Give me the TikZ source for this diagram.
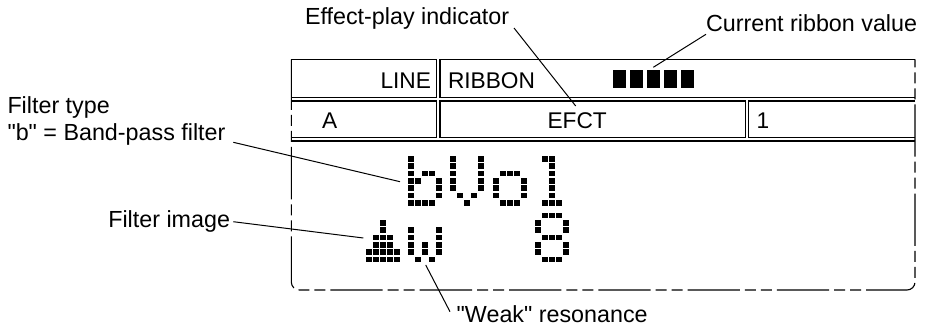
\documentclass[tikz,border=0pt]{standalone}
\usepackage{fontspec}
\newfontfamily\lblfont{Liberation Sans}
\newcommand{\dotglyph}[3]{%
  \foreach \r/\c in {#3} {\fill ({#1+7*\c},{#2+7.33*\r}) rectangle +(5.8,5.6);}%
}
\tikzset{
  lbl/.style={anchor=base west,inner sep=0pt,outer sep=0pt,font=\lblfont\fontsize{23.3}{28.4}\selectfont},
  lblr/.style={anchor=base east,inner sep=0pt,outer sep=0pt,font=\lblfont\fontsize{23.3}{28.4}\selectfont},
  celltxt/.style={font=\lblfont\fontsize{22.7}{28.4}\selectfont},
  frameline/.style={line width=1.1pt,line join=miter},
  outline/.style={line width=1.1pt,dash pattern=on 52.3pt off 5pt on 11pt off 5pt on 11pt off 5pt,dash phase=1.8pt},
  leader/.style={line width=1pt},
  seg/.style={fill=black}
}
\begin{document}
\begin{tikzpicture}[x=1pt,y=-1pt]
\useasboundingbox (0,0) rectangle (928,328);
% outer dashed outline
\draw[outline] (291.3,59.5) -- (291.3,282) .. controls (291.3,286.4) and (294.9,290) .. (299.3,290) -- (907,290) .. controls (911.4,290) and (915,286.4) .. (915,282) -- (915,59.5);
% cells
\draw[frameline] (291.3,59.5) -- (436.5,59.5) -- (436.5,97.7) -- (291.3,97.7);
\draw[frameline] (915,59.5) -- (440,59.5) -- (440,97.7) -- (915,97.7);
\draw[frameline] (291.3,101) -- (436.5,101) -- (436.5,137.5) -- (291.3,137.5);
\draw[frameline] (440,101) rectangle (745.3,137.5);
\draw[frameline] (915,101) -- (748.5,101) -- (748.5,137.5) -- (915,137.5);
\draw[frameline] (291.3,141) -- (915,141);
% cell text
\node[lblr,celltxt] (line) at (431,88.3) {LINE};
\node[lbl,celltxt] (ribbon) at (448,88.3) {RIBBON};
\node[lbl,celltxt] (a) at (322,129) {A};
\node[lbl,celltxt] (efct) at (547.5,129) {EFCT};
\node[lbl,celltxt] (one) at (756.5,129) {1};
% ribbon bar
\foreach \bx in {612.7,629.9,647,664,681} {\fill[seg] (\bx,70) rectangle +(13,17.7);}
% LCD glyphs: b V o 1
\dotglyph{408.3}{156}{0/0,1/0,2/0,2/2,2/3,3/0,3/1,3/4,4/0,4/4,5/0,5/4,6/0,6/1,6/2,6/3}
\dotglyph{450}{156}{0/0,1/0,2/0,3/0,4/0,0/4,1/4,2/4,3/4,4/4,5/1,5/3,6/2}
\dotglyph{493}{156}{2/1,2/2,2/3,3/0,3/4,4/0,4/4,5/0,5/4,6/1,6/2,6/3}
\dotglyph{535}{156}{0/1,0/2,1/2,2/2,3/2,4/2,5/2,6/1,6/2,6/3}
% filter image, w, 8
\dotglyph{366}{212.7}{1/2,2/2,3/1,3/2,3/3,4/1,4/2,4/3,5/0,5/1,5/2,5/3,5/4,6/0,6/1,6/2,6/3,6/4}
\dotglyph{408.3}{212.7}{2/0,2/4,3/0,3/4,4/0,4/2,4/4,5/0,5/2,5/4,6/1,6/3}
\dotglyph{535}{212.7}{0/1,0/2,0/3,1/0,1/4,2/0,2/4,3/1,3/2,3/3,4/0,4/4,5/0,5/4,6/1,6/2,6/3}
% callout labels
\node[lbl] (eff) at (305,25) {Effect-play indicator};
\node[lbl] (cur) at (706,31.7) {Current ribbon value};
\node[lbl,align=left,anchor=north west] (ftype) at (7.5,97) {Filter type\\[-1.6pt]"b" = Band-pass filter};
\node[lblr] (fimg) at (230,228) {Filter image};
\node[lbl] (weak) at (456.7,323) {"Weak" resonance};
% leader targets
\coordinate (effEnd) at (575.7,106);
\coordinate (curEnd) at (653.3,67.3);
\coordinate (ftypeEnd) at (400,181.7);
\coordinate (fimgEnd) at (363.3,238);
\coordinate (weakEnd) at (425.7,265);
\coordinate (effStart) at (514,28);
\coordinate (curStart) at (706,34.3);
\coordinate (ftypeStart) at (233.3,142.3);
\coordinate (fimgStart) at (233.3,221.7);
\coordinate (weakStart) at (450,311.7);
\draw[leader] (effStart) -- (effEnd);
\draw[leader] (curStart) -- (curEnd);
\draw[leader] (ftypeStart) -- (ftypeEnd);
\draw[leader] (fimgStart) -- (fimgEnd);
\draw[leader] (weakStart) -- (weakEnd);
\end{tikzpicture}
\end{document}
